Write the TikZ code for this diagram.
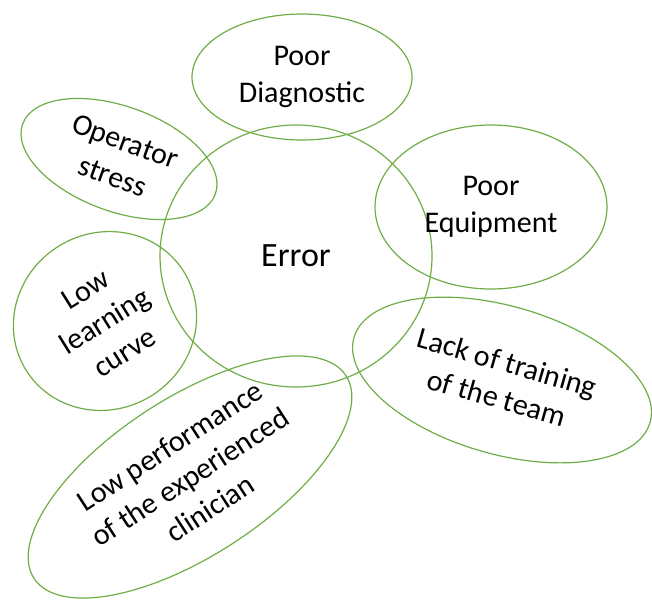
\documentclass[tikz,border=0pt]{standalone}
\usepackage{fontspec}
\setmainfont{Carlito}
\usepackage{tikz}
\usetikzlibrary{shapes.geometric}
\definecolor{leafgreen}{RGB}{112,173,71}

\begin{document}
\begin{tikzpicture}[x=1pt, y=-1pt,
		cause/.style={ellipse, draw=leafgreen, line width=1.2pt, inner sep=0pt, align=center, font=\fontsize{30}{37}\selectfont}]
	\useasboundingbox (0,0) rectangle (652,600);
	\node[cause, minimum width=272pt, minimum height=262pt, font=\fontsize{34}{40}\selectfont] (err) at (296,256) {Error};
	\node[cause, minimum width=220pt, minimum height=126pt] (diag) at (302,77) {Poor\\Diagnostic};
	\node[cause, minimum width=205pt, minimum height=105pt, rotate=-20] (stress) at (119,159) {Operator\\stress};
	\node[cause, minimum width=232pt, minimum height=164pt] (equip) at (491,207) {Poor\\Equipment};
	\node[cause, minimum width=186pt, minimum height=176pt, rotate=32] (learn) at (105,321) {Low\\learning\\curve};
	\node[cause, minimum width=372pt, minimum height=158pt, rotate=33] (clin) at (190,477) {Low performance\\of the experienced\\clinician};
	\node[cause, minimum width=308pt, minimum height=148pt, rotate=-16] (train) at (502,380) {Lack of training\\of the team};
\end{tikzpicture}
\end{document}
